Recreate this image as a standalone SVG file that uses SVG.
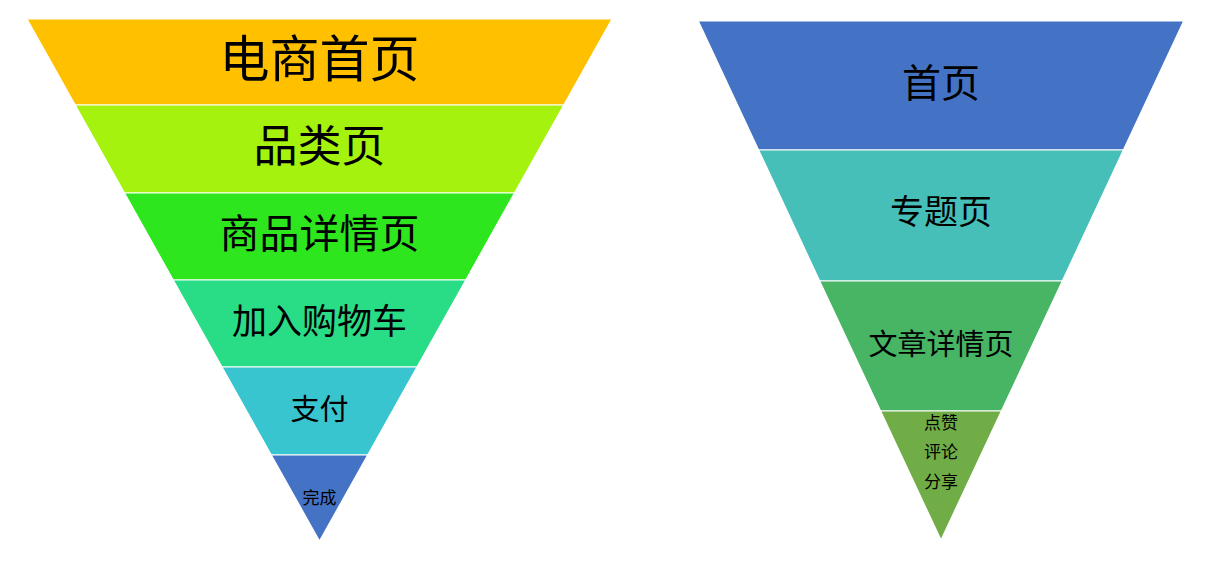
<svg xmlns="http://www.w3.org/2000/svg" width="1216" height="562" viewBox="0 0 1216 562">
<style>
.band{stroke:#ffffff;stroke-width:1.2;stroke-linejoin:miter}
text{font-family:"Noto Sans CJK SC","Liberation Sans",sans-serif;fill:#000;text-anchor:middle;dominant-baseline:central}
</style>
<rect width="1216" height="562" fill="#ffffff"/>
<g id="funnel-left">
<g id="l1"><polygon class="band" fill="#FFC000" points="27,19 612,19 563.8,105 75.2,105"/><text x="319.5" y="55" font-size="50">电商首页</text></g>
<g id="l2"><polygon class="band" fill="#A6F20F" points="75.2,105 563.8,105 514.5,193 124.5,193"/><text x="319.5" y="143" font-size="44">品类页</text></g>
<g id="l3"><polygon class="band" fill="#2DE61E" points="124.5,193 514.5,193 465.8,280 173.2,280"/><text x="319.5" y="231" font-size="40">商品详情页</text></g>
<g id="l4"><polygon class="band" fill="#29DC86" points="173.2,280 465.8,280 417,367 222,367"/><text x="319.5" y="318" font-size="35">加入购物车</text></g>
<g id="l5"><polygon class="band" fill="#38C5CF" points="222,367 417,367 367.7,455 271.3,455"/><text x="319.5" y="407" font-size="29">支付</text></g>
<g id="l6"><polygon class="band" fill="#4472C4" points="271.3,455 367.7,455 319.5,541"/><text x="319.5" y="496" font-size="17">完成</text></g>
</g>
<g id="funnel-right">
<g id="r1"><polygon class="band" fill="#4472C4" points="698.3,21 1183.7,21 1123.4,150 758.6,150"/><text x="941" y="80" font-size="39">首页</text></g>
<g id="r2"><polygon class="band" fill="#45BFB7" points="758.6,150 1123.4,150 1062.3,281 819.7,281"/><text x="941" y="209" font-size="34">专题页</text></g>
<g id="r3"><polygon class="band" fill="#47B564" points="819.7,281 1062.3,281 1001.4,411 880.6,411"/><text x="941" y="342" font-size="29">文章详情页</text></g>
<g id="r4"><polygon class="band" fill="#70AD47" points="880.6,411 1001.4,411 941,540"/><text x="941" y="421" font-size="17">点赞</text><text x="941" y="450" font-size="17">评论</text><text x="941" y="480" font-size="17">分享</text></g>
</g>
<g id="connectors"/>
</svg>
